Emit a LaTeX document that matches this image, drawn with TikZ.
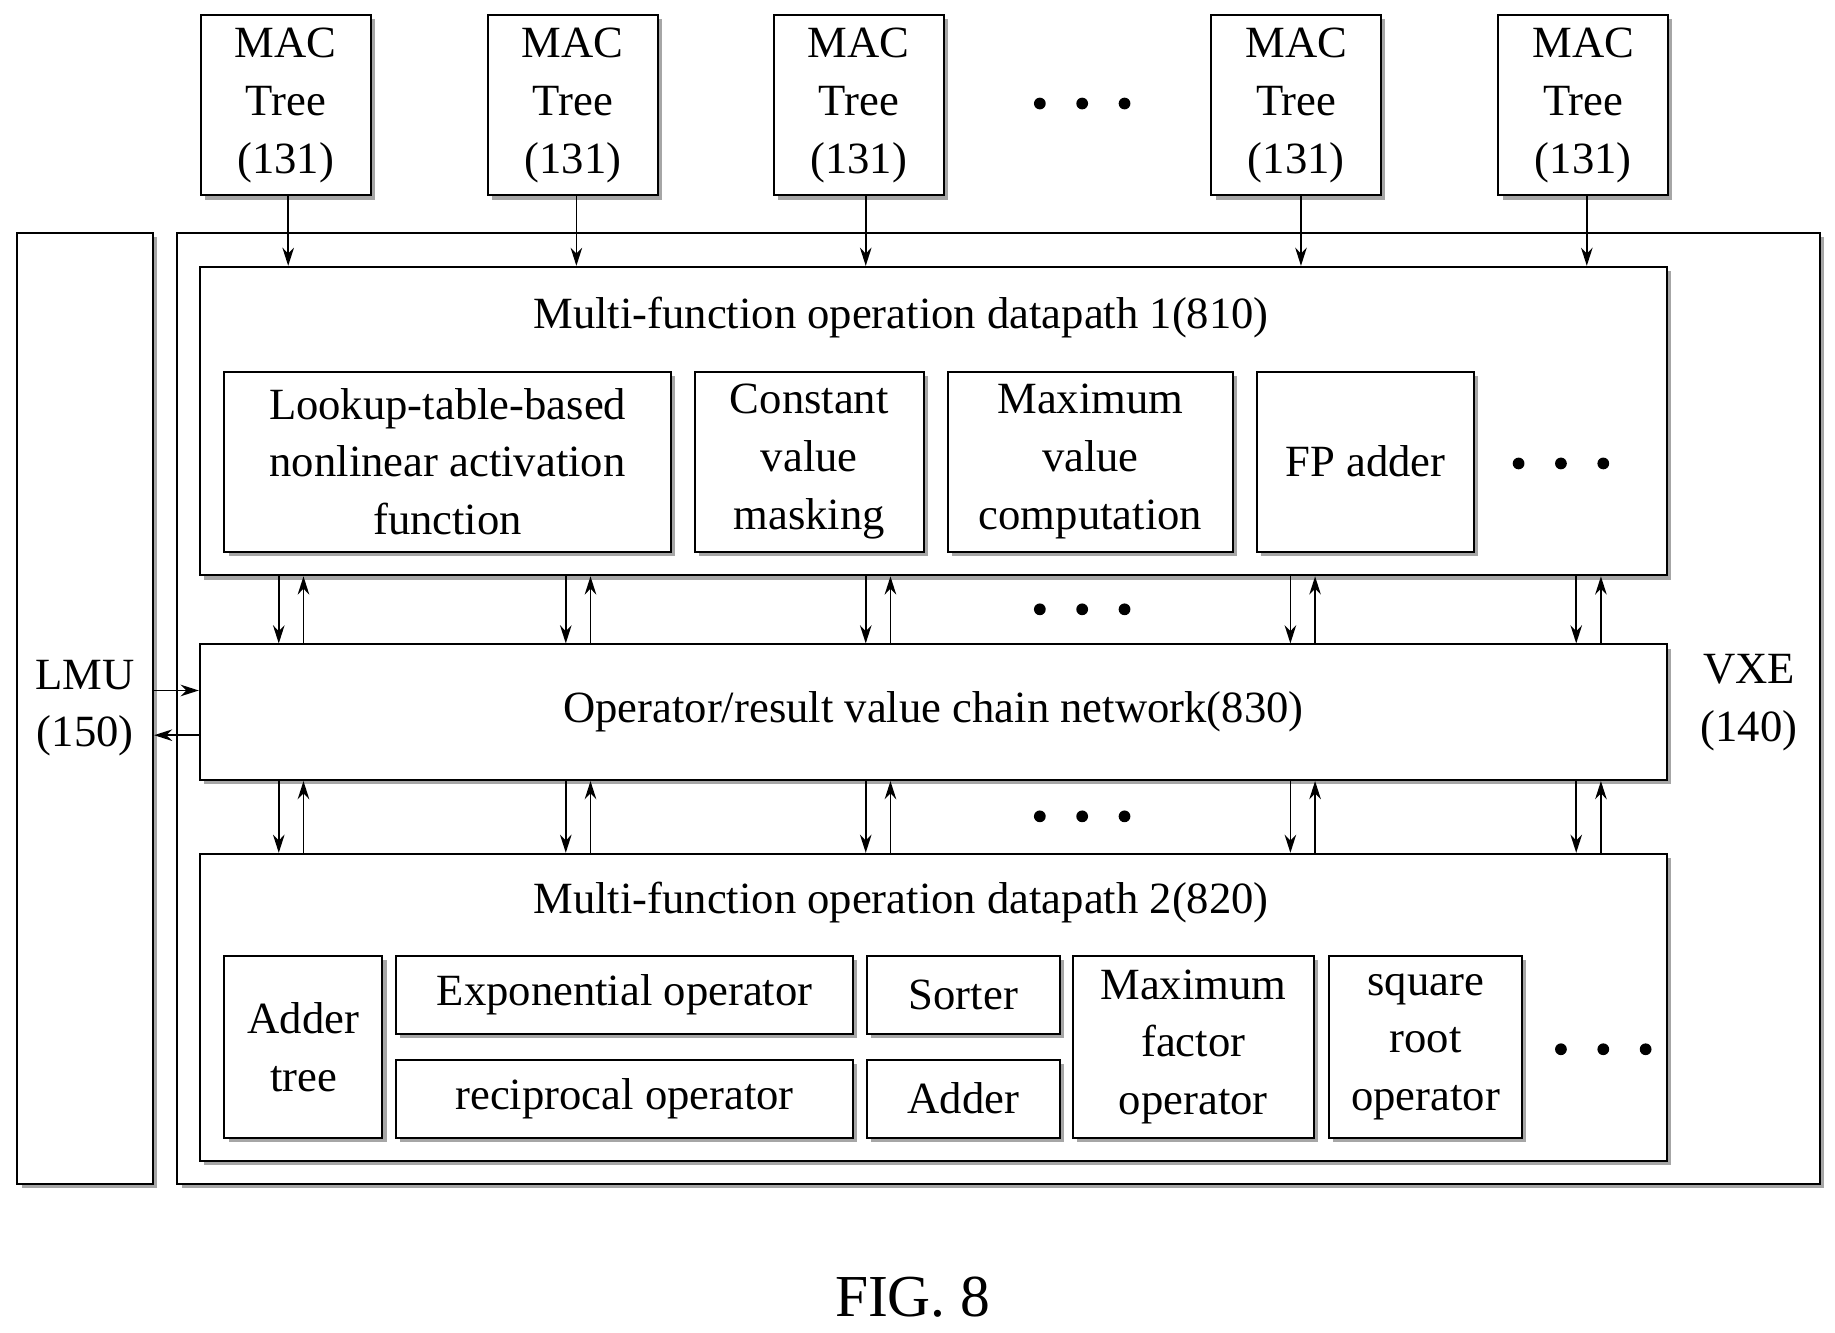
\documentclass[tikz,border=0pt]{standalone}
\usepackage{fontspec}
\setmainfont{Liberation Serif}
\usetikzlibrary{fit,shadows,arrows.meta}
\begin{document}
\begin{tikzpicture}[x=0.25mm,y=-0.25mm,
 box/.style={draw=black,line width=1.2pt,fill=white,inner sep=-0.6pt,align=center,
   drop shadow={shadow xshift=2.5pt,shadow yshift=-2.5pt,fill=gray!70,opacity=1}},
 ar/.style={-{Stealth[length=11pt,width=7pt]},line width=1pt},
 every node/.style={font=\fontsize{27}{35}\selectfont}]
\useasboundingbox (0,0) rectangle (1560,1133);
\newcommand\bx[6]{\node[box,fit={(#2,#3)(#4,#5)}] (#1) {}; \node[align=center] at (#1.center) {#6};}
\newcommand\dts[2]{\foreach \i in {-1,0,1}{\fill (#1+\i*36,#2) circle (5);}}
\bx{lmu}{14}{197}{131}{1007}{LMU\\(150)}
\bx{vxe}{150}{197}{1548}{1007}{}
\node[align=center] at (1487,597) {VXE\\(140)};
\foreach \n/\a in {1/170,2/414,3/657,4/1029,5/1273}{
  \pgfmathsetmacro\b{\a+146}
  \bx{mac\n}{\a}{12}{\b}{167}{MAC\\Tree\\(131)}}
\dts{920}{88}
\node[box,fit={(169,226)(1418,490)}] (dp1) {};
\node at (766,270) {Multi-function operation datapath 1(810)};
\bx{lut}{190}{315}{571}{470}{Lookup-table-based\\nonlinear activation\\function}
\bx{cvm}{590}{315}{786}{470}{Constant\\value\\masking}
\bx{mvc}{805}{315}{1049}{470}{Maximum\\value\\computation}
\bx{fpa}{1068}{315}{1254}{470}{FP adder}
\dts{1327}{394}
\bx{net}{169}{547}{1418}{664}{Operator/result value chain network(830)}
\node[box,fit={(169,725)(1418,988)}] (dp2) {};
\node at (766,767) {Multi-function operation datapath 2(820)};
\bx{addt}{190}{812}{326}{968}{Adder\\tree}
\bx{expo}{336}{812}{726}{880}{Exponential operator}
\bx{reci}{336}{900}{726}{968}{reciprocal operator}
\bx{sort}{736}{812}{902}{880}{Sorter}
\bx{add}{736}{900}{902}{968}{Adder}
\bx{mfo}{911}{812}{1118}{968}{Maximum\\factor\\operator}
\bx{sqr}{1129}{812}{1295}{968}{square\\root\\operator}
\dts{1363}{892}
\dts{920}{518}
\dts{920}{694}
\foreach \n/\x in {1/245,2/490,3/736,4/1106,5/1349}{
  \coordinate (m\n) at (\x,167);
  \draw[ar] (m\n) -- (m\n |- dp1.north);}
\foreach \x in {237,481,736,1097,1340}{
  \coordinate (d) at (\x,0); \coordinate (u) at (\x+21,0);
  \draw[ar] (d |- dp1.south) -- (d |- net.north);
  \draw[ar] (u |- net.north) -- (u |- dp1.south);
  \draw[ar] (d |- net.south) -- (d |- dp2.north);
  \draw[ar] (u |- dp2.north) -- (u |- net.south);}
\coordinate (l1) at (0,587); \coordinate (l2) at (0,625);
\draw[ar] (lmu.east |- l1) -- (net.west |- l1);
\draw[ar] (net.west |- l2) -- (lmu.east |- l2);
\node[font=\fontsize{36}{40}\selectfont] (fig) at (776,1103) {FIG. 8};
\end{tikzpicture}
\end{document}
